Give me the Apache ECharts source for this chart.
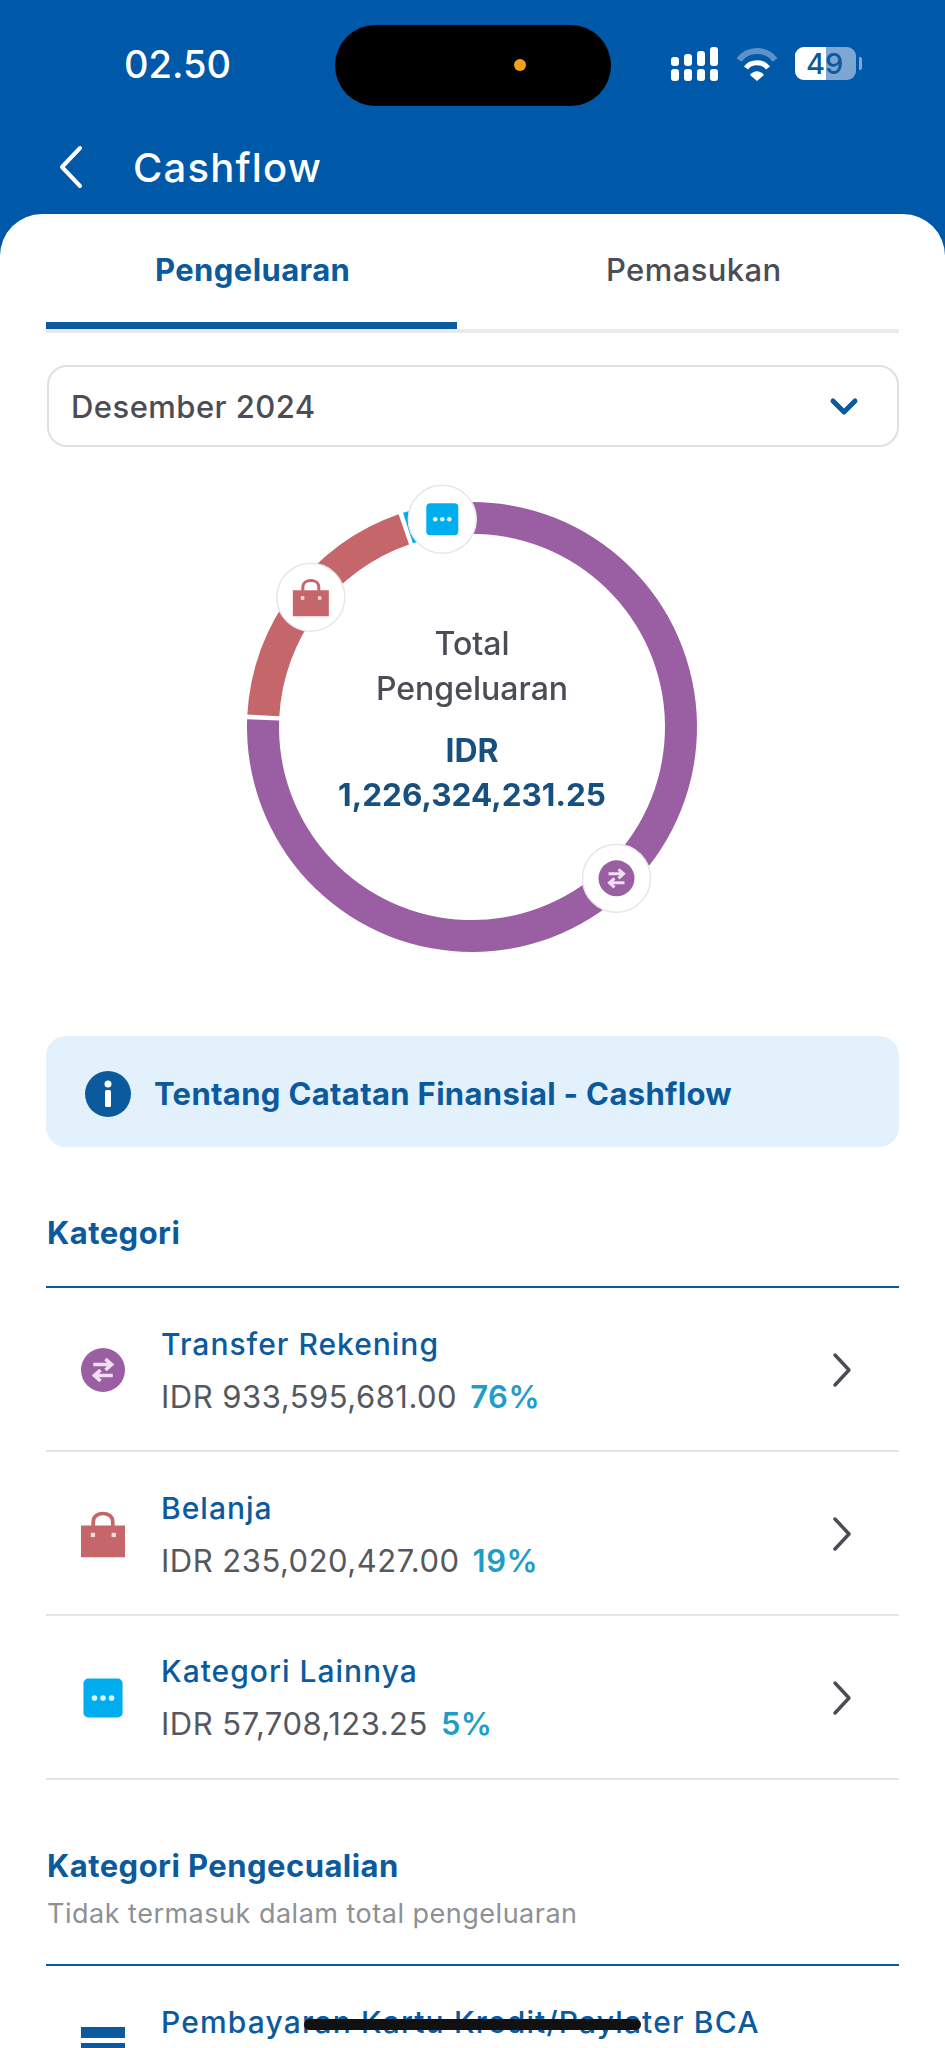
<!DOCTYPE html>
<html>
<head>
<meta charset="utf-8">
<title>Cashflow</title>
<script src="https://cdn.jsdelivr.net/npm/echarts@6/dist/echarts.min.js"></script>
<style>
  html, body { margin: 0; padding: 0; background: #fff; }
  #page { position: relative; width: 945px; height: 2048px; overflow: hidden; background: #0058a8; font-family: Inter, "Noto Sans", sans-serif; }
  #card { position: absolute; left: 0; top: 214px; width: 945px; height: 1834px; background: #fff; border-radius: 42px 42px 0 0; }
  .t { position: absolute; white-space: nowrap; transform: translateY(-50%); line-height: 1.2; }
  .box { position: absolute; box-sizing: border-box; }
  .head { color: #0b5a9e; font-weight: 700; font-size: 31px; left: 47px; letter-spacing: 0.45px; }
  .title { color: #0b5a9e; font-weight: 500; font-size: 30px; left: 161px; letter-spacing: 1px; }
  .sub { color: #55585e; font-weight: 400; font-size: 31px; left: 161px; letter-spacing: 0.5px; }
  .sub b { color: #1f9cc8; font-weight: 600; margin-left: 13px; }
  svg { position: absolute; overflow: visible; }
  #chart { position: absolute; left: 222px; top: 477px; width: 500px; height: 500px; }
</style>
</head>
<body>
<div id="page">
  <div class="t" style="left:124px;top:65px;color:#fff;font-size:38px;font-weight:500;">02.50</div>
  <div class="box" style="left:335px;top:25px;width:276px;height:81px;background:#000;border-radius:41px;"></div>
  <div class="box" style="left:514px;top:59px;width:12px;height:12px;background:#f59e1c;border-radius:50%;"></div>

  <!-- signal -->
  <svg style="left:671px;top:46px" width="50" height="36" fill="#fff">
    <rect x="0" y="23" width="8" height="12" rx="3"/><rect x="13" y="23" width="8" height="12" rx="3"/>
    <rect x="26" y="23" width="8" height="12" rx="3"/><rect x="39" y="23" width="8" height="12" rx="3"/>
    <rect x="0" y="11" width="8" height="9" rx="3"/><rect x="13" y="8" width="8" height="12" rx="3"/>
    <rect x="26" y="5" width="8" height="15" rx="3"/><rect x="39" y="1" width="8" height="19" rx="3"/>
  </svg>
  <!-- wifi -->
  <svg style="left:737px;top:46px" width="40" height="36" fill="none" stroke-linecap="butt">
    <path d="M2 14 C11 2 29 2 38 14" stroke="#5c92c8" stroke-width="6"/>
    <path d="M9 22 C14 15 26 15 31 22" stroke="#fff" stroke-width="5"/>
    <path d="M13 29 L20 35 L27 29 C23 24 17 24 13 29Z" fill="#fff"/>
  </svg>
  <!-- battery -->
  <div class="box" style="left:795px;top:47px;width:61px;height:33px;background:#7ea6d4;border-radius:9px;"></div>
  <div class="box" style="left:795px;top:47px;width:31px;height:33px;background:#fff;border-radius:9px 0 0 9px;"></div>
  <div class="box" style="left:859px;top:57px;width:3px;height:13px;background:#7ea6d4;border-radius:0 2px 2px 0;"></div>
  <div class="t" style="left:806px;top:64px;color:#0b5a9e;font-size:29px;font-weight:500;letter-spacing:0;">49</div>

  <svg style="left:58px;top:145px" width="26" height="44" fill="none" stroke="#fff" stroke-width="4" stroke-linecap="round" stroke-linejoin="round"><path d="M22 3 L4 22 L22 41"/></svg>
  <div class="t" style="left:133px;top:168px;color:#fff;font-size:40px;font-weight:500;letter-spacing:1.2px;">Cashflow</div>

  <div id="card"></div>

  <div class="t" style="left:155px;top:270px;color:#0b5a9e;font-size:31px;font-weight:700;letter-spacing:0.4px;">Pengeluaran</div>
  <div class="t" style="left:606px;top:270px;color:#4a4d55;font-size:31px;font-weight:500;letter-spacing:0.4px;">Pemasukan</div>
  <div class="box" style="left:46px;top:329px;width:853px;height:4px;background:#e9eaeb;"></div>
  <div class="box" style="left:46px;top:322px;width:411px;height:7px;background:#0b5a9e;"></div>

  <div class="box" style="left:47px;top:365px;width:852px;height:82px;border:2px solid #dfe0e2;border-radius:20px;"></div>
  <div class="t" style="left:71px;top:407px;color:#4a4d55;font-size:31px;font-weight:500;letter-spacing:0.45px;">Desember 2024</div>
  <svg style="left:830px;top:397px" width="28" height="20" fill="none" stroke="#0b5a9e" stroke-width="5" stroke-linecap="round" stroke-linejoin="round"><path d="M3 4 L14 15 L25 4"/></svg>

  <div id="chart"></div>

  <div class="box" style="left:46px;top:1036px;width:853px;height:111px;background:#e3f1fc;border-radius:20px;"></div>
  <svg style="left:85px;top:1071px" width="46" height="46"><circle cx="23" cy="23" r="23" fill="#0b5a9e"/><circle cx="23" cy="13" r="3.5" fill="#fff"/><rect x="20" y="19" width="6" height="17" rx="1.5" fill="#fff"/></svg>
  <div class="t" style="left:154px;top:1094px;color:#0b5a9e;font-size:31px;font-weight:700;letter-spacing:0.33px;">Tentang Catatan Finansial - Cashflow</div>

  <div class="t head" style="top:1233px;">Kategori</div>
  <div class="box" style="left:46px;top:1286px;width:853px;height:2px;background:#0b5a9e;"></div>
  <div id="rows"></div>

  <div class="t head" style="top:1866px;">Kategori Pengecualian</div>
  <div class="t" style="left:47px;top:1914px;color:#8e9095;font-size:27px;letter-spacing:0.5px;">Tidak termasuk dalam total pengeluaran</div>
  <div class="box" style="left:46px;top:1964px;width:853px;height:2px;background:#0b5a9e;"></div>
  <div class="t title" style="top:2022px;letter-spacing:1.15px;">Pembayaran Kartu Kredit/Paylater BCA</div>
  <div class="box" style="left:81px;top:2027px;width:44px;height:11px;background:#0b5a9e;"></div>
  <div class="box" style="left:81px;top:2043px;width:44px;height:11px;background:#0b5a9e;"></div>
  <div class="box" style="left:304px;top:2019px;width:337px;height:11px;background:#111;border-radius:6px;"></div>
</div>

<script>
// chart values
const categories = ['Transfer Rekening', 'Belanja', 'Kategori Lainnya']
const values = [933595681.00, 235020427.00, 57708123.25]
const amountLabels = ['IDR 933,595,681.00', 'IDR 235,020,427.00', 'IDR 57,708,123.25']
const percentLabels = ['76%', '19%', '5%']
const colors = ['#9a5ea3', '#c5666a', '#00aeef']
const centerLines = ['Total', 'Pengeluaran']
const totalLines = ['IDR', '1,226,324,231.25']

// icons are drawn in a 36x36 box
const icons = [
  '<circle cx="18" cy="18" r="18" fill="#9a5ea3"/><path d="M10 13.5H24M20 9L25 13.5L20 18M26 22.5H12M16 18L11 22.5L16 27" fill="none" stroke="#f1dff3" stroke-width="3"/>',
  '<path d="M0 11H36V37H0Z" fill="#c5666a"/><path d="M10 13V8C10 -1 26 -1 26 8V13" fill="none" stroke="#c5666a" stroke-width="3"/><rect x="8" y="17" width="3.5" height="3.5" fill="#f5dcdc"/><rect x="25" y="17" width="3.5" height="3.5" fill="#f5dcdc"/>',
  '<rect x="2" y="2" width="32" height="32" rx="4" fill="#00aeef"/><circle cx="11" cy="18" r="2.3" fill="#d9f4ff"/><circle cx="18" cy="18" r="2.3" fill="#d9f4ff"/><circle cx="25" cy="18" r="2.3" fill="#d9f4ff"/>'
]
// the badges sit a little clockwise of the slice middle on the screen
const badgeNudge = [[-4, 0], [8, -2], [7, 1]]

function badge(icon) {
  const svg = '<svg xmlns="http://www.w3.org/2000/svg" width="70" height="70">'
    + '<circle cx="35" cy="35" r="34" fill="#fff" stroke="#e6e6ea" stroke-width="1.5"/>'
    + '<g transform="translate(17 17)">' + icon + '</g></svg>'
  return 'data:image/svg+xml;charset=utf-8,' + encodeURIComponent(svg)
}

// list rows
const rowsEl = document.getElementById('rows')
let html = ''
categories.forEach((name, i) => {
  const top = 1287 + i * 164
  html += `<div class="t title" style="top:${top + 57 - (i == 2 ? 1 : 0)}px;">${name}</div>`
  html += `<div class="t sub" style="top:${top + 110 - (i == 2 ? 1 : 0)}px;">${amountLabels[i]}<b>${percentLabels[i]}</b></div>`
  html += `<svg style="left:81px;top:${top + 61}px" width="44" height="44" viewBox="0 0 36 36">${icons[i]}</svg>`
  html += `<svg style="left:832px;top:${top + 66}px" width="20" height="34" fill="none" stroke="#4a4d55" stroke-width="3.5" stroke-linecap="round" stroke-linejoin="round"><path d="M3 2 L17 17 L3 32"/></svg>`
  html += `<div class="box" style="left:46px;top:${top + 163}px;width:853px;height:2px;background:#e4e5e6;"></div>`
})
rowsEl.innerHTML = html

const myChart = echarts.init(document.getElementById('chart'))

const rich = {}
icons.forEach((icon, i) => {
  rich['ico' + i] = { width: 70, height: 70, backgroundColor: { image: badge(icon) } }
})

myChart.setOption({
  animation: false,
  color: colors,
  graphic: [
    { type: 'text', x: 250, y: 168, style: { text: centerLines[0], font: '500 32px Inter', fill: '#4a4d55', align: 'center', verticalAlign: 'middle' } },
    { type: 'text', x: 250, y: 213, style: { text: centerLines[1], font: '500 32px Inter', fill: '#4a4d55', align: 'center', verticalAlign: 'middle' } },
    { type: 'text', x: 250, y: 275, style: { text: totalLines[0], font: '700 32px Inter', fill: '#17507f', align: 'center', verticalAlign: 'middle' } },
    { type: 'text', x: 250, y: 320, style: { text: totalLines[1], font: '700 31.5px Inter', fill: '#17507f', align: 'center', verticalAlign: 'middle' } }
  ],
  series: [{
    type: 'pie',
    center: [250, 250],
    radius: [193, 225],
    startAngle: 91.5,
    padAngle: 1.2,
    silent: true,
    avoidLabelOverlap: false,
    label: {
      show: true,
      position: 'inside',
      formatter: p => '{ico' + p.dataIndex + '| }',
      rich: rich
    },
    labelLine: { show: false },
    data: categories.map((name, i) => ({ name: name, value: values[i], label: { offset: badgeNudge[i] } }))
  }]
})
</script>
</body>
</html>
